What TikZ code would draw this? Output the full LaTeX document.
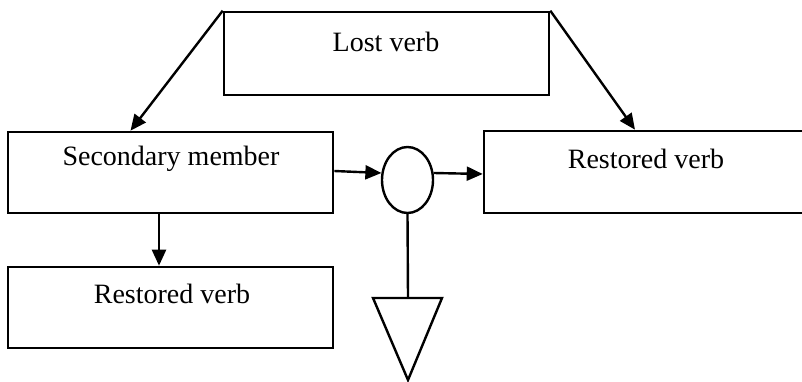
\documentclass[tikz,border=0pt]{standalone}
\usepackage{fontspec}
\setmainfont{Liberation Serif}
\usetikzlibrary{arrows.meta,shapes.geometric}
\begin{document}
\begin{tikzpicture}[x=1pt,y=-1pt,
  box/.style={draw,line width=2.6pt,rectangle,inner sep=0pt},
  lbl/.style={inner sep=0pt,font=\fontsize{28}{32}\selectfont},
  arr/.style={line width=2.4pt,-{Triangle[length=16pt,width=14pt]}},
  ln/.style={line width=2.4pt}]
\useasboundingbox (0,0) rectangle (802,382);
\clip (0,0) rectangle (802,382);
\node[box,minimum width=325pt,minimum height=83pt] (lost) at (386.5,53.5) {};
\node[lbl] (lostt) at (386,42) {Lost verb};
\node[box,minimum width=325pt,minimum height=81pt] (sec) at (170.5,172.5) {};
\node[lbl] (sect) at (171,159) {Secondary member};
\node[box,minimum width=330pt,minimum height=82pt] (rr) at (649,172) {};
\node[lbl] (rrt) at (646,159) {Restored verb};
\node[box,minimum width=325pt,minimum height=81pt] (br) at (170.5,307.5) {};
\node[lbl] (brt) at (172,294) {Restored verb};
\node[draw,line width=2.4pt,ellipse,minimum width=51pt,minimum height=66pt,inner sep=0pt] (ell) at (407.5,180) {};
\coordinate (tl) at (373,298);
\coordinate (tr) at (442,298);
\coordinate (tb) at (408,380);
\draw[ln,line join=miter] (tl) -- (tr) -- (tb) -- cycle;
\coordinate (ttop) at (408,298);
\draw[ln] (ell.south) -- (ttop);
\draw[arr] (lost.north west) -- ([xshift=-40pt]sec.north);
\draw[arr] (lost.north east) -- ([xshift=-14pt]rr.north);
\draw[arr] ([yshift=1.5pt]sec.east) -- (ell.165);
\draw[arr] (ell.15) -- ([yshift=-2pt]rr.west);
\draw[arr] ([xshift=-11.5pt]sec.south) -- ([xshift=-11.5pt]br.north);
\end{tikzpicture}
\end{document}
